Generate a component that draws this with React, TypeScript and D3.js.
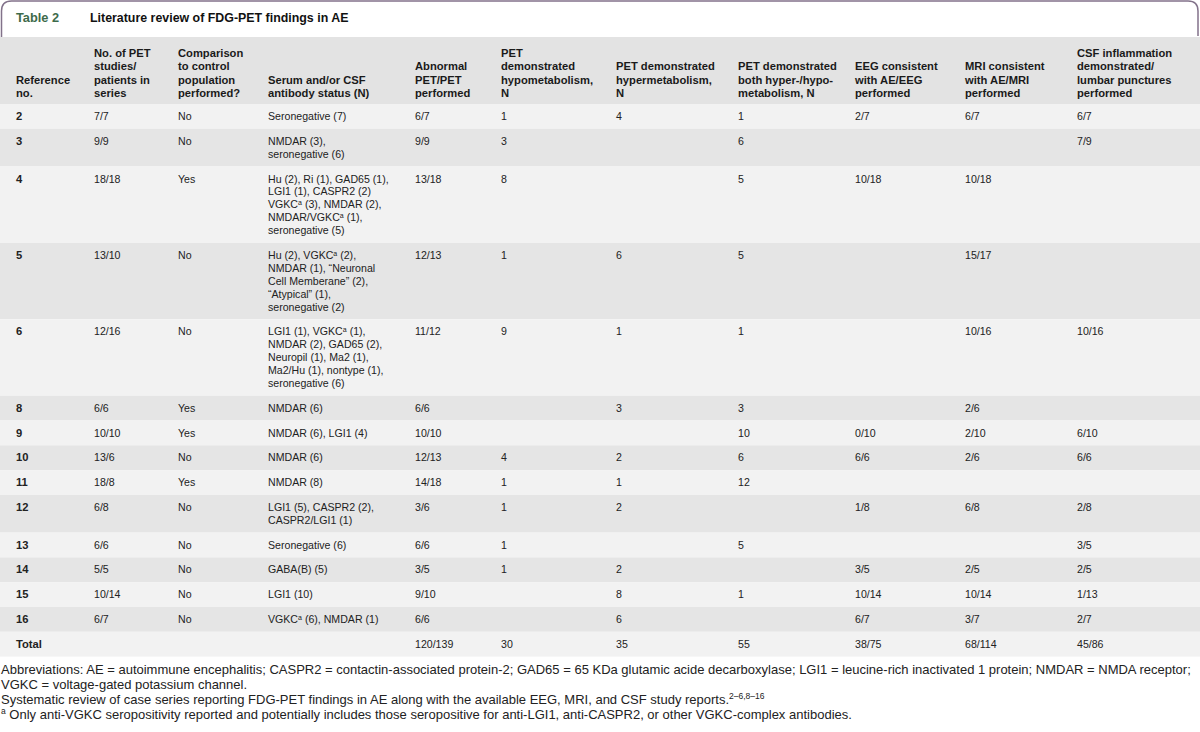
import { useEffect, useRef } from "react";
import * as d3 from "d3";

// table contents, one array per column
const refNos = ["2", "3", "4", "5", "6", "8", "9", "10", "11", "12", "13", "14", "15", "16", "Total"];
const petStudies = ["7/7", "9/9", "18/18", "13/10", "12/16", "6/6", "10/10", "13/6", "18/8", "6/8", "6/6", "5/5", "10/14", "6/7", ""];
const controlComparison = ["No", "No", "Yes", "No", "No", "Yes", "Yes", "No", "Yes", "No", "No", "No", "No", "No", ""];
const antibodyStatus = [
  ["Seronegative (7)"],
  ["NMDAR (3),", "seronegative (6)"],
  ["Hu (2), Ri (1), GAD65 (1),", "LGI1 (1), CASPR2 (2)", "VGKC^a (3), NMDAR (2),", "NMDAR/VGKC^a (1),", "seronegative (5)"],
  ["Hu (2), VGKC^a (2),", "NMDAR (1), \u201cNeuronal", "Cell Memberane\u201d (2),", "\u201cAtypical\u201d (1),", "seronegative (2)"],
  ["LGI1 (1), VGKC^a (1),", "NMDAR (2), GAD65 (2),", "Neuropil (1), Ma2 (1),", "Ma2/Hu (1), nontype (1),", "seronegative (6)"],
  ["NMDAR (6)"],
  ["NMDAR (6), LGI1 (4)"],
  ["NMDAR (6)"],
  ["NMDAR (8)"],
  ["LGI1 (5), CASPR2 (2),", "CASPR2/LGI1 (1)"],
  ["Seronegative (6)"],
  ["GABA(B) (5)"],
  ["LGI1 (10)"],
  ["VGKC^a (6), NMDAR (1)"],
  [""],
];
const abnormalPet = ["6/7", "9/9", "13/18", "12/13", "11/12", "6/6", "10/10", "12/13", "14/18", "3/6", "6/6", "3/5", "9/10", "6/6", "120/139"];
const hypometabolism = ["1", "3", "8", "1", "9", "", "", "4", "1", "1", "1", "1", "", "", "30"];
const hypermetabolism = ["4", "", "", "6", "1", "3", "", "2", "1", "2", "", "2", "8", "6", "35"];
const bothHyperHypo = ["1", "6", "5", "5", "1", "3", "10", "6", "12", "", "5", "", "1", "", "55"];
const eegConsistent = ["2/7", "", "10/18", "", "", "", "0/10", "6/6", "", "1/8", "", "3/5", "10/14", "6/7", "38/75"];
const mriConsistent = ["6/7", "", "10/18", "15/17", "10/16", "2/6", "2/10", "2/6", "", "6/8", "", "2/5", "10/14", "3/7", "68/114"];
const csfInflammation = ["6/7", "7/9", "", "", "10/16", "", "6/10", "6/6", "", "2/8", "3/5", "2/5", "1/13", "2/7", "45/86"];

const headers = [
  ["Reference", "no."],
  ["No. of PET", "studies/", "patients in", "series"],
  ["Comparison", "to control", "population", "performed?"],
  ["Serum and/or CSF", "antibody status (N)"],
  ["Abnormal", "PET/PET", "performed"],
  ["PET", "demonstrated", "hypometabolism,", "N"],
  ["PET demonstrated", "hypermetabolism,", "N"],
  ["PET demonstrated", "both hyper-/hypo-", "metabolism, N"],
  ["EEG consistent", "with AE/EEG", "performed"],
  ["MRI consistent", "with AE/MRI", "performed"],
  ["CSF inflammation", "demonstrated/", "lumbar punctures", "performed"],
];

const footnotes = [
  "Abbreviations: AE = autoimmune encephalitis; CASPR2 = contactin-associated protein-2; GAD65 = 65 KDa glutamic acide decarboxylase; LGI1 = leucine-rich inactivated 1 protein; NMDAR = NMDA receptor;",
  "VGKC = voltage-gated potassium channel.",
  "Systematic review of case series reporting FDG-PET findings in AE along with the available EEG, MRI, and CSF study reports.^2\u20136,8\u201316",
  "^a Only anti-VGKC seropositivity reported and potentially includes those seropositive for anti-LGI1, anti-CASPR2, or other VGKC-complex antibodies.",
];

const Table = () => {
  const ref = useRef<HTMLDivElement | null>(null);

  function render(svg: any) {
    const width = 1200;
    const height = 732;
    const font = "'Liberation Sans', Arial, sans-serif";
    svg.attr("width", width).attr("height", height).style("display", "block");

    const columns = [
      refNos.map((d) => [d]),
      petStudies.map((d) => [d]),
      controlComparison.map((d) => [d]),
      antibodyStatus,
      abnormalPet.map((d) => [d]),
      hypometabolism.map((d) => [d]),
      hypermetabolism.map((d) => [d]),
      bothHyperHypo.map((d) => [d]),
      eegConsistent.map((d) => [d]),
      mriConsistent.map((d) => [d]),
      csfInflammation.map((d) => [d]),
    ];

    const x = d3
      .scaleOrdinal<number, number>()
      .domain(d3.range(columns.length))
      .range([16, 94, 178, 268, 415, 501, 616, 738, 855, 965, 1077]);

    const lineH = 12.9;
    const pad = 11.9;
    const headTop = 37;
    const headBottom = 104;

    const rowLines = refNos.map((_, i) => d3.max(columns, (c) => c[i].length) as number);
    const rowH = rowLines.map((n) => pad + lineH * n);
    const rowTop = [headBottom, ...Array.from(d3.cumsum(rowH)).map((v) => headBottom + v)];

    // rich text: "^" starts a superscript until a space
    const addText = (t: any, s: string, supSize: number) => {
      const parts = s.split(/(\^[^\s]+)/);
      parts.forEach((p) => {
        if (!p) return;
        if (p.startsWith("^")) {
          t.append("tspan").attr("baseline-shift", "super").attr("font-size", supSize).text(p.slice(1));
        } else {
          t.append("tspan").text(p);
        }
      });
    };

    // title frame
    svg
      .append("path")
      .attr("d", "M1.5,37 V11 Q1.5,1 11.5,1 H1188 Q1198,1 1198,11 V36")
      .attr("fill", "none")
      .attr("stroke", "#82728a")
      .attr("stroke-width", 1.5);
    svg
      .append("text")
      .attr("x", 16)
      .attr("y", 22)
      .attr("font-family", font)
      .attr("font-size", 12.8)
      .attr("font-weight", "bold")
      .attr("fill", "#3e6b4b")
      .text("Table 2");
    svg
      .append("text")
      .attr("x", 90)
      .attr("y", 22)
      .attr("font-family", font)
      .attr("font-size", 12.4)
      .attr("font-weight", "bold")
      .attr("fill", "#111")
      .text("Literature review of FDG-PET findings in AE");

    // header band
    svg
      .append("rect")
      .attr("x", 0)
      .attr("y", headTop)
      .attr("width", width)
      .attr("height", headBottom - headTop)
      .attr("fill", "#e3e3e3");
    headers.forEach((lines, ci) => {
      const t = svg
        .append("text")
        .attr("font-family", font)
        .attr("font-size", 11.2)
        .attr("font-weight", "bold")
        .attr("fill", "#1a1a1a");
      lines.forEach((l, li) => {
        t.append("tspan")
          .attr("x", x(ci))
          .attr("y", 97 - (lines.length - 1 - li) * 13.3)
          .text(l);
      });
    });

    // body rows
    refNos.forEach((_, ri) => {
      svg
        .append("rect")
        .attr("x", 0)
        .attr("y", rowTop[ri])
        .attr("width", width)
        .attr("height", rowH[ri])
        .attr("fill", ri % 2 === 0 ? "#f2f2f2" : "#e5e5e5");
      columns.forEach((col, ci) => {
        col[ri].forEach((line, li) => {
          if (!line) return;
          const t = svg
            .append("text")
            .attr("x", x(ci))
            .attr("y", rowTop[ri] + 16 + li * lineH)
            .attr("font-family", font)
            .attr("font-size", ci === 0 ? 11.2 : 10.6)
            .attr("font-weight", ci === 0 ? "bold" : "normal")
            .attr("fill", "#222");
          addText(t, line, 7);
        });
      });
    });

    // footnotes
    const footTop = rowTop[rowTop.length - 1];
    footnotes.forEach((f, i) => {
      const t = svg
        .append("text")
        .attr("x", 1)
        .attr("y", footTop + 17.5 + i * 15)
        .attr("font-family", font)
        .attr("font-size", 13)
        .attr("fill", "#222");
      addText(t, f, 8.5);
    });
  }

  useEffect(() => {
    document.body.style.margin = "0";
    if (ref.current) {
      const svg = d3.select(ref.current).append("svg");
      render(svg);
      return () => {
        svg.remove();
      };
    }
  }, []);

  return <div ref={ref}></div>;
};

export default function App() {
  return <Table />;
}
